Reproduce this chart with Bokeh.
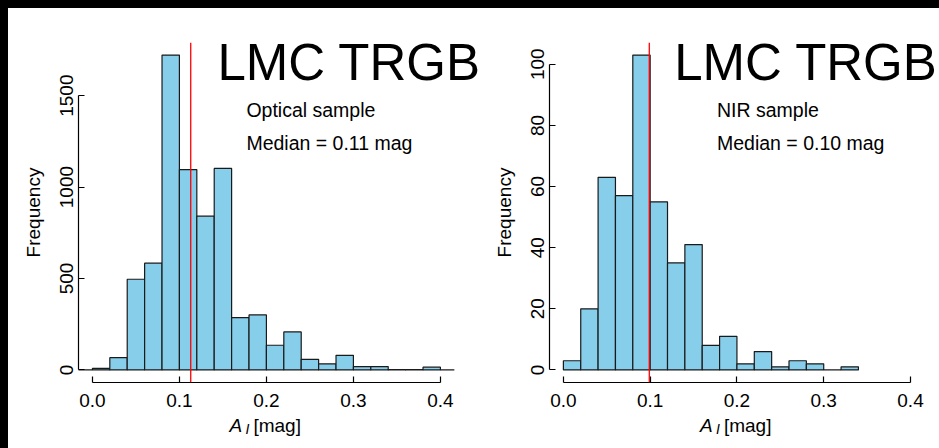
from bokeh.plotting import figure
from bokeh.models import Range1d, FixedTicker, NumeralTickFormatter, Span, Label, Spacer
from bokeh.layouts import row, column
from bokeh.embed import file_html
from bokeh.resources import INLINE

# ---------------- data ----------------
opt_left = [-0.02, 0.00, 0.02, 0.04, 0.06, 0.08, 0.10, 0.12, 0.14, 0.16, 0.18,
            0.20, 0.22, 0.24, 0.26, 0.28, 0.30, 0.32, 0.34, 0.36, 0.38]
opt_counts = [0, 8, 67, 496, 584, 1722, 1096, 841, 1102, 286, 301,
              135, 208, 58, 33, 80, 18, 18, 2, 1, 15]
opt_median = 0.113

nir_left = [0.00, 0.02, 0.04, 0.06, 0.08, 0.10, 0.12, 0.14, 0.16, 0.18,
            0.20, 0.22, 0.24, 0.26, 0.28, 0.30, 0.32]
nir_counts = [3, 20, 63, 57, 103, 55, 35, 41, 8, 11, 2, 6, 1, 3, 2, 0, 1]
nir_median = 0.099

bin_width = 0.02
x_ticks = [0.0, 0.1, 0.2, 0.3, 0.4]
opt_yticks = [0, 500, 1000, 1500]
nir_yticks = [0, 20, 40, 60, 80, 100]

title_text = "LMC TRGB"
opt_text = ["Optical sample", "Median = 0.11 mag"]
nir_text = ["NIR sample", "Median = 0.10 mag"]

FONT = "Liberation Sans"
BAR_FILL = "#87CEEB"

FRAME_H = 340
PX_PER_X = 870.0      # horizontal scale (px per data unit)
X_START = -0.016
X_PLOT_END = 0.416    # right end of the original plot region
MAIN_H = 408          # height of each histogram figure
STRIP_H = 32          # height of the x-axis-title strip under each figure


def y_at(px, ymax):
    """data y for a pixel row measured from the frame top"""
    lo, hi = -0.04 * ymax, 1.04 * ymax
    return hi - (px / FRAME_H) * (hi - lo)


def panel(lefts, counts, median, yticks, texts, title_x, text_x, width, bl,
          baseline_to_edge):
    ymax = max(counts)
    frame_w = width - bl
    xr = Range1d(X_START, X_START + frame_w / PX_PER_X)
    p = figure(width=width, height=MAIN_H, output_backend="svg", toolbar_location=None,
               x_range=xr,
               y_range=Range1d(-0.04 * ymax, 1.04 * ymax),
               min_border_left=bl, min_border_right=0,
               min_border_top=34, min_border_bottom=MAIN_H - 34 - FRAME_H)
    p.outline_line_color = None
    p.grid.visible = False
    p.background_fill_color = "white"
    p.border_fill_color = "white"

    rights = [l + bin_width for l in lefts]
    p.quad(left=lefts, right=rights, bottom=0, top=counts,
           fill_color=BAR_FILL, line_color="#1a1a1a", line_width=1.2)
    if baseline_to_edge:
        # empty bins beyond the data, clipped at the plot-region edge
        p.segment(x0=[rights[-1]], y0=[0], x1=[X_PLOT_END], y1=[0],
                  line_color="#1a1a1a", line_width=1.2)

    p.add_layout(Span(location=median, dimension="height",
                      line_color="red", line_width=1.3))

    for ax in (p.xaxis[0], p.yaxis[0]):
        ax.axis_line_width = 1.2
        ax.axis_line_color = "black"
        ax.major_tick_line_color = "black"
        ax.major_tick_line_width = 1.2
        ax.major_tick_in = 6
        ax.major_tick_out = 0
        ax.minor_tick_line_color = None
        ax.major_label_text_font = FONT
        ax.major_label_text_font_size = "19px"
        ax.major_label_text_color = "black"
        ax.axis_label_text_font = FONT
        ax.axis_label_text_font_size = "19px"
        ax.axis_label_text_font_style = "normal"
        ax.axis_label_text_color = "black"

    p.xaxis.ticker = FixedTicker(ticks=x_ticks)
    p.xaxis.formatter = NumeralTickFormatter(format="0.0")
    p.xaxis.bounds = (x_ticks[0], x_ticks[-1])
    p.xaxis.major_label_standoff = 11

    p.yaxis.ticker = FixedTicker(ticks=yticks)
    p.yaxis.bounds = (yticks[0], yticks[-1])
    p.yaxis.major_label_orientation = "parallel"
    p.yaxis.major_label_standoff = 5
    p.yaxis.axis_label = "Frequency"
    p.yaxis.axis_label_standoff = 14

    # big title (anchor at middle of text)
    p.add_layout(Label(x=title_x, y=y_at(20.3, ymax), text=title_text, text_font=FONT,
                       text_font_size="51px", text_color="black",
                       text_baseline="middle", text_align="left"))
    for t, py in zip(texts, [67.4, 100.4]):
        p.add_layout(Label(x=text_x, y=y_at(py, ymax), text=t, text_font=FONT,
                           text_font_size="19.5px", text_color="black",
                           text_baseline="middle", text_align="left"))

    # strip holding the x-axis title  A_I [mag]
    s = figure(width=width, height=STRIP_H, output_backend="svg", toolbar_location=None,
               x_range=xr, y_range=Range1d(0, STRIP_H),
               min_border_left=bl, min_border_right=0,
               min_border_top=0, min_border_bottom=0,
               x_axis_location=None, y_axis_location=None)
    s.outline_line_color = None
    s.grid.visible = False
    s.background_fill_color = "white"
    s.border_fill_color = "white"
    xc = (x_ticks[0] + x_ticks[-1]) / 2
    s.add_layout(Label(x=xc, y=22.6, x_offset=-37, text="A",
                       text_font=FONT, text_font_size="19px", text_color="black",
                       text_font_style="italic", text_baseline="middle"))
    s.add_layout(Label(x=xc, y=20.0, x_offset=-21, text="I",
                       text_font=FONT, text_font_size="14px", text_color="black",
                       text_font_style="italic", text_baseline="middle"))
    s.add_layout(Label(x=xc, y=22.6, x_offset=-13, text="[mag]",
                       text_font=FONT, text_font_size="19px", text_color="black",
                       text_baseline="middle"))
    return column(p, s)


c1 = panel(opt_left, opt_counts, opt_median, opt_yticks, opt_text,
           0.1437, 0.177, width=482, bl=70, baseline_to_edge=True)
c2 = panel(nir_left, nir_counts, nir_median, nir_yticks, nir_text,
           0.1277, 0.177, width=449, bl=58, baseline_to_edge=False)

top_bar = Spacer(width=939, height=8, styles={"background-color": "black"})
left_bar = Spacer(width=8, height=MAIN_H + STRIP_H, styles={"background-color": "black"})
layout = column(top_bar, row(left_bar, c1, c2))

open("out.html", "w").write(file_html(layout, INLINE))
